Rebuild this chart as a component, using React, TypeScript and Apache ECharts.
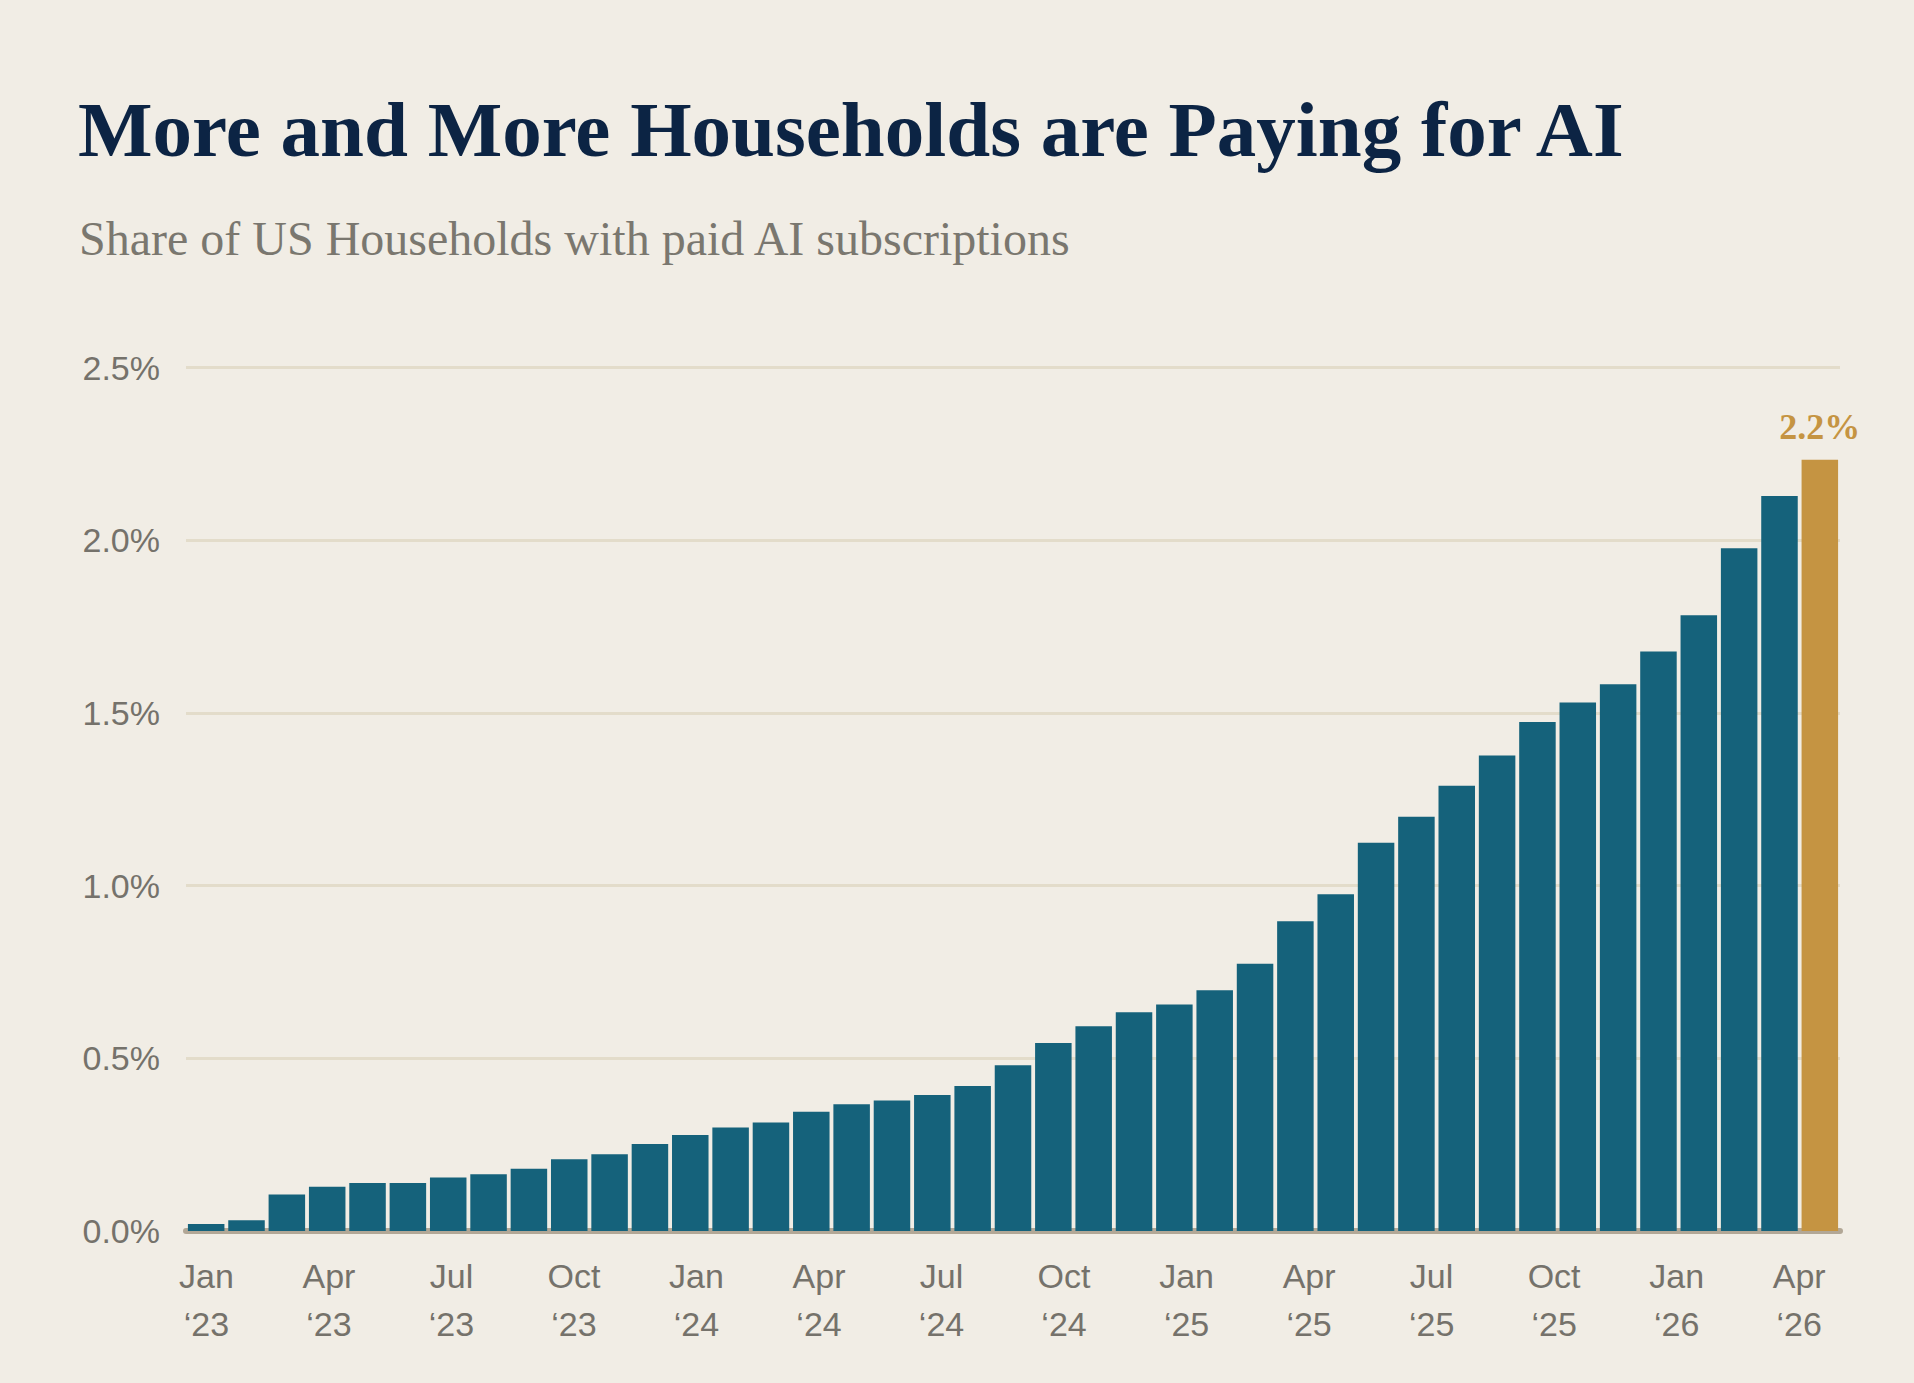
import React, { useEffect, useRef } from "react";
import * as echarts from "echarts";

const months: string[] = [
  "Jan 2023", "Feb 2023", "Mar 2023", "Apr 2023", "May 2023", "Jun 2023",
  "Jul 2023", "Aug 2023", "Sep 2023", "Oct 2023", "Nov 2023", "Dec 2023",
  "Jan 2024", "Feb 2024", "Mar 2024", "Apr 2024", "May 2024", "Jun 2024",
  "Jul 2024", "Aug 2024", "Sep 2024", "Oct 2024", "Nov 2024", "Dec 2024",
  "Jan 2025", "Feb 2025", "Mar 2025", "Apr 2025", "May 2025", "Jun 2025",
  "Jul 2025", "Aug 2025", "Sep 2025", "Oct 2025", "Nov 2025", "Dec 2025",
  "Jan 2026", "Feb 2026", "Mar 2026", "Apr 2026", "May 2026",
];

const shareValues: number[] = [
  0.02, 0.031, 0.106, 0.128, 0.139, 0.139, 0.155, 0.164, 0.18, 0.208, 0.222, 0.252,
  0.278, 0.3, 0.314, 0.345, 0.367, 0.378, 0.394, 0.42, 0.48, 0.544, 0.593, 0.633,
  0.656, 0.697, 0.774, 0.897, 0.975, 1.124, 1.199, 1.289, 1.377, 1.474, 1.53, 1.583,
  1.678, 1.783, 1.977, 2.128, 2.233,
];

const tickPositions: number[] = [0, 3, 6, 9, 12, 15, 18, 21, 24, 27, 30, 33, 36, 39];
const tickLabels: string[] = [
  "Jan\n\u201823", "Apr\n\u201823", "Jul\n\u201823", "Oct\n\u201823",
  "Jan\n\u201824", "Apr\n\u201824", "Jul\n\u201824", "Oct\n\u201824",
  "Jan\n\u201825", "Apr\n\u201825", "Jul\n\u201825", "Oct\n\u201825",
  "Jan\n\u201826", "Apr\n\u201826",
];

const BG = "#f1ede5";
const NAVY = "#0c2444";
const GRAY = "#75726b";
const BAR = "#15627b";
const GOLD = "#c59442";
const GRID = "#e3dcca";
const AXIS = "#b2a796";

export default function App() {
  const ref = useRef<HTMLDivElement>(null);

  useEffect(() => {
    document.body.style.margin = "0";
    document.body.style.background = BG;
    if (!ref.current) return;
    const chart = echarts.init(ref.current, undefined, { renderer: "svg" });
    const last = shareValues.length - 1;
    const option = {
      animation: false,
      backgroundColor: BG,
      title: [
        {
          text: "More and More Households are Paying for AI",
          left: 78,
          top: 90,
          padding: 0,
          textStyle: {
            fontFamily: "Liberation Serif",
            fontWeight: "bold",
            fontSize: 79,
            lineHeight: 79,
            color: NAVY,
          },
        },
        {
          text: "Share of US Households with paid AI subscriptions",
          left: 79,
          top: 214,
          padding: 0,
          textStyle: {
            fontFamily: "Liberation Serif",
            fontWeight: "normal",
            fontSize: 48,
            lineHeight: 48,
            color: "#7a776f",
          },
        },
      ],
      grid: { left: 186, right: 74, top: 367.5, bottom: 152, containLabel: false },
      xAxis: [
        {
          type: "category",
          data: months,
          position: "bottom",
          axisLine: { show: true, lineStyle: { color: AXIS, width: 6 } },
          axisTick: { show: false },
          axisLabel: { show: false },
          splitLine: { show: false },
        },
        {
          type: "value",
          position: "bottom",
          min: -0.5,
          max: 40,
          axisLine: { show: false },
          axisTick: { show: false },
          splitLine: { show: false },
          axisLabel: {
            show: true,
            customValues: tickPositions,
            formatter: (v: number) => {
              const i = tickPositions.indexOf(Math.round(v));
              return i >= 0 ? tickLabels[i] : "";
            },
            margin: 21,
            fontFamily: "Liberation Sans",
            fontSize: 34,
            lineHeight: 48,
            color: GRAY,
            align: "center",
          },
        },
      ],
      yAxis: {
        type: "value",
        min: 0,
        max: 2.5,
        interval: 0.5,
        axisLine: { show: false },
        axisTick: { show: false },
        axisLabel: {
          formatter: (v: number) => v.toFixed(1) + "%",
          margin: 26,
          fontFamily: "Liberation Sans",
          fontSize: 34,
          color: GRAY,
        },
        splitLine: { show: true, lineStyle: { color: GRID, width: 3 } },
      },
      series: [
        {
          type: "bar",
          xAxisIndex: 0,
          barCategoryGap: "9.5%",
          itemStyle: { color: BAR },
          data: shareValues.map((v, i) =>
            i === last
              ? {
                  value: v,
                  itemStyle: { color: GOLD },
                  label: {
                    show: true,
                    position: "top",
                    distance: 15,
                    formatter: (p: any) => Number(p.value).toFixed(1) + "%",
                    fontFamily: "Liberation Serif",
                    fontWeight: "bold",
                    fontSize: 36,
                    color: GOLD,
                  },
                }
              : v
          ),
        },
      ],
    };
    chart.setOption(option as any);
    return () => chart.dispose();
  }, []);

  return <div ref={ref} style={{ width: 1914, height: 1383, background: BG }} />;
}
